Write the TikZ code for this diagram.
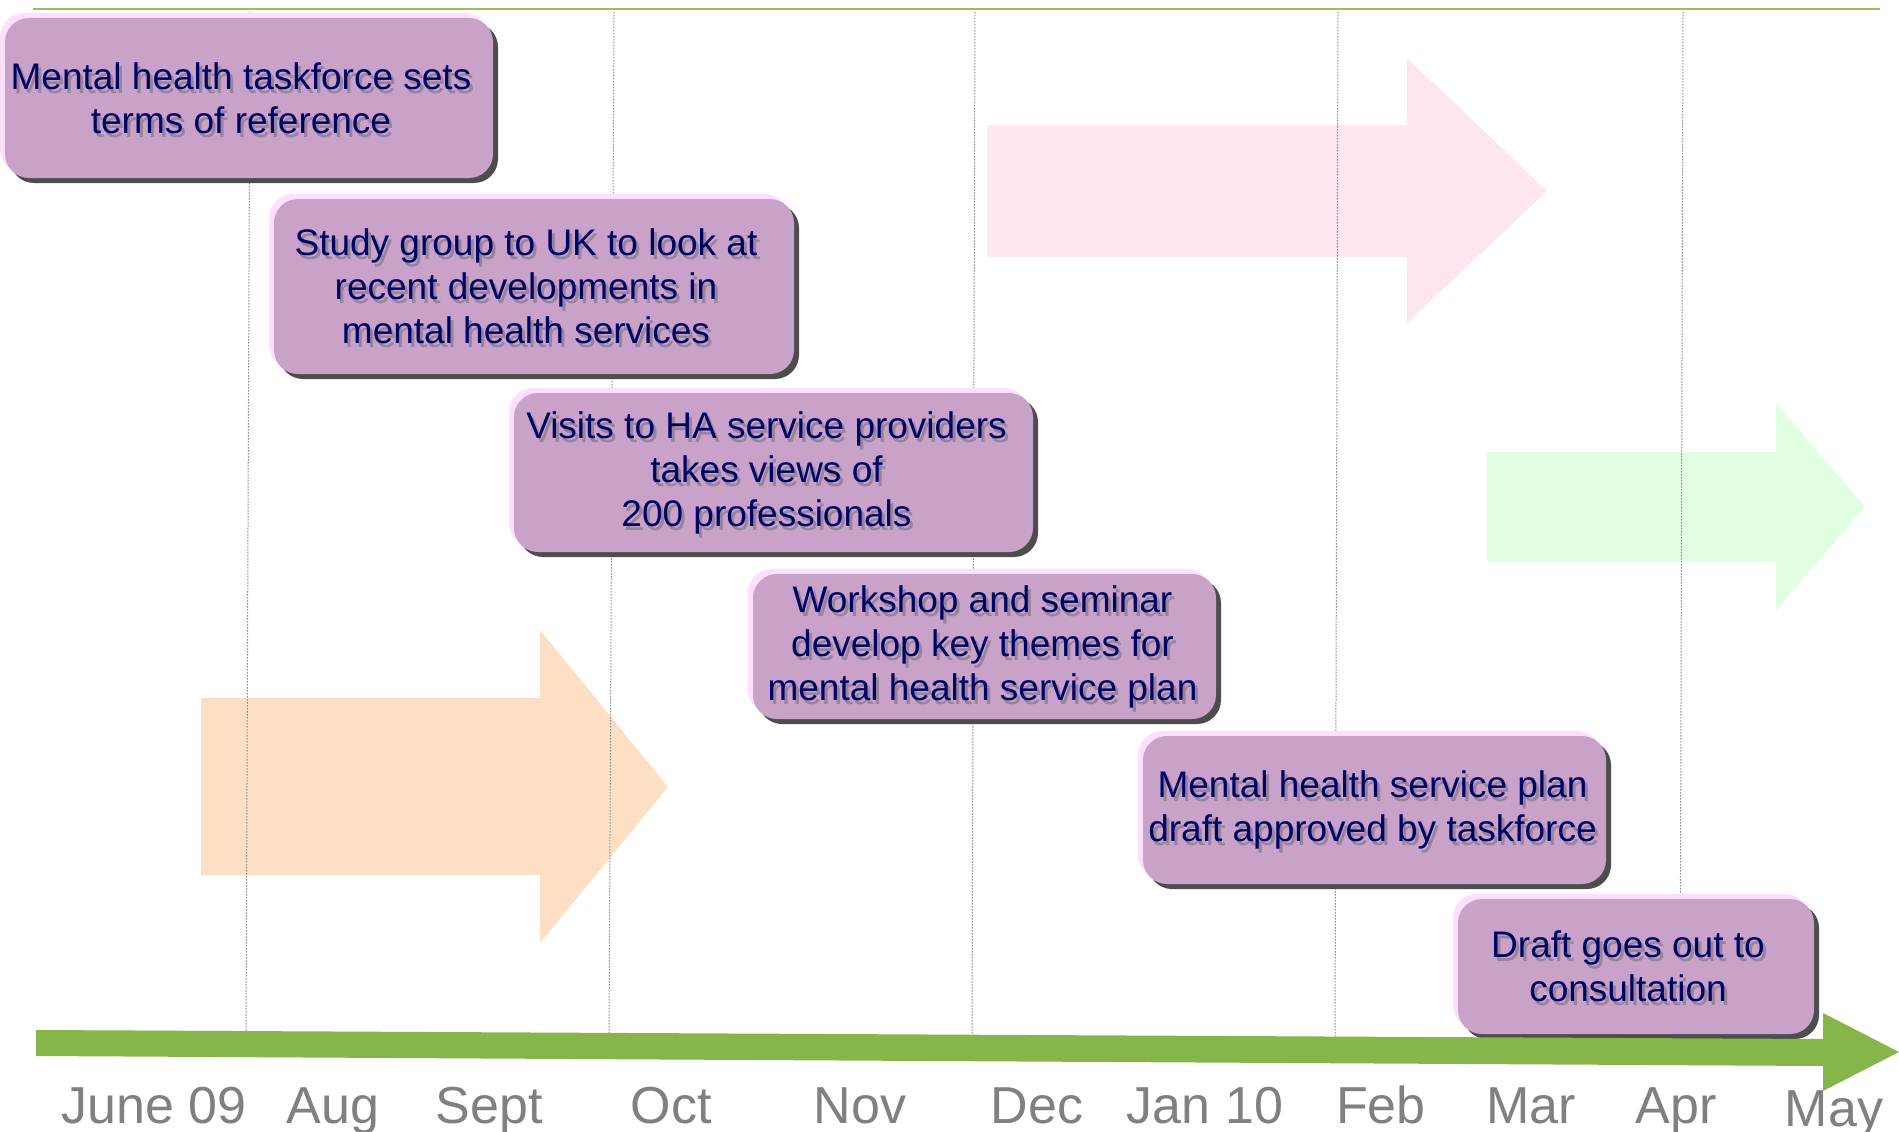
\documentclass[tikz,border=0pt]{standalone}
\usepackage{fontspec}
\setmainfont{Liberation Sans}
\usetikzlibrary{shadows,calc}

\definecolor{boxfill}{RGB}{200,162,200}
\definecolor{boxglow}{RGB}{255,222,255}
\definecolor{boxshade}{RGB}{77,77,77}
\definecolor{navytext}{RGB}{0,0,102}
\definecolor{textshade}{RGB}{150,132,152}
\definecolor{monthgray}{RGB}{128,128,128}
\definecolor{axisgreen}{RGB}{134,182,74}
\definecolor{topgreen}{RGB}{150,192,95}
\definecolor{peach}{RGB}{253,224,196}
\definecolor{blush}{RGB}{253,229,242}
\definecolor{mint}{RGB}{224,255,224}
\definecolor{gridgray}{RGB}{140,140,140}

\tikzset{
  eventbox/.style={rounded corners=24pt, fill=boxfill, inner sep=0pt,
    general shadow={shadow xshift=-5pt, shadow yshift=5pt, fill=boxglow},
    general shadow={shadow xshift=5pt, shadow yshift=-5pt, fill=boxshade}},
  evtext/.style={align=center, text=navytext, inner sep=0pt,
    font=\fontsize{37pt}{44pt}\selectfont},
  evshade/.style={evtext, text=textshade},
  month/.style={anchor=base, text=monthgray, inner sep=0pt,
    font=\fontsize{52pt}{60pt}\selectfont},
  gridline/.style={gridgray, line width=1pt, dash pattern=on 1.5pt off 1.5pt},
}

% event label with its soft text shadow; #4 is the horizontal offset from the box centre
\newcommand\evlabel[4]{%
  \node[evshade] at ($(#1)+(#4+3,4)$) {#3};
  \node[evtext] (#2) at ($(#1)+(#4,0)$) {#3};}

\begin{document}
\begin{tikzpicture}[x=1pt,y=-1pt]
\useasboundingbox (0,0) rectangle (1899,1132);

% pale background arrows
\fill[blush] (987,125) -- (1407,125) -- (1407,58) -- (1547,191)
  -- (1407,323) -- (1407,257) -- (987,257) -- cycle;
\fill[mint] (1487,452) -- (1776,452) -- (1776,403) -- (1865,507)
  -- (1776,610) -- (1776,561) -- (1487,561) -- cycle;
\fill[peach] (201,698) -- (540,698) -- (540,630) -- (668,787)
  -- (540,943) -- (540,875) -- (201,875) -- cycle;

% top rule and month grid lines
\draw[topgreen, line width=2.5pt] (33,9) -- (1880,9);
\draw[gridline] (250,12) -- (246,1040);
\draw[gridline] (614,12) -- (609,1040);
\draw[gridline] (975,12) -- (972,1040);
\draw[gridline] (1338,12) -- (1335,1040);
\draw[gridline] (1683,12) -- (1680,1040);

% event boxes
\node[eventbox, minimum width=488pt, minimum height=160pt] (e1) at (249,98) {};
\node[eventbox, minimum width=520pt, minimum height=175pt] (e2) at (534,286.5) {};
\node[eventbox, minimum width=519pt, minimum height=159pt] (e3) at (773.5,472.5) {};
\node[eventbox, minimum width=463pt, minimum height=145pt] (e4) at (984.5,646.5) {};
\node[eventbox, minimum width=463pt, minimum height=148pt] (e5) at (1374.5,810) {};
\node[eventbox, minimum width=356pt, minimum height=135pt] (e6) at (1636,966.5) {};

\evlabel{e1}{t1}{Mental health taskforce sets\\terms of reference}{-8}
\evlabel{e2}{t2}{Study group to UK to look at\\recent developments in\\mental health services}{-8}
\evlabel{e3}{t3}{Visits to HA service providers\\takes views of\\200 professionals}{-7}
\evlabel{e4}{t4}{Workshop and seminar\\develop key themes for\\mental health service plan}{-2}
\evlabel{e5}{t5}{Mental health service plan\\draft approved by taskforce}{-2}
\evlabel{e6}{t6}{Draft goes out to\\consultation}{-8}

% time axis
\fill[axisgreen] (36,1030) -- (1823,1039) -- (1823,1013) -- (1899,1052)
  -- (1823,1091) -- (1823,1066) -- (36,1056) -- cycle;

% month labels
\node[month] (m1) at (154,1123) {June 09};
\node[month] (m2) at (333,1123) {Aug};
\node[month] (m3) at (489,1123) {Sept};
\node[month] (m4) at (671,1123) {Oct};
\node[month] (m5) at (860,1123) {Nov};
\node[month] (m6) at (1037,1123) {Dec};
\node[month] (m7) at (1205,1123) {Jan 10};
\node[month] (m8) at (1381,1123) {Feb};
\node[month] (m9) at (1531,1123) {Mar};
\node[month] (m10) at (1676,1123) {Apr};
\node[month] (m11) at (1834,1126) {May};
\end{tikzpicture}
\end{document}
